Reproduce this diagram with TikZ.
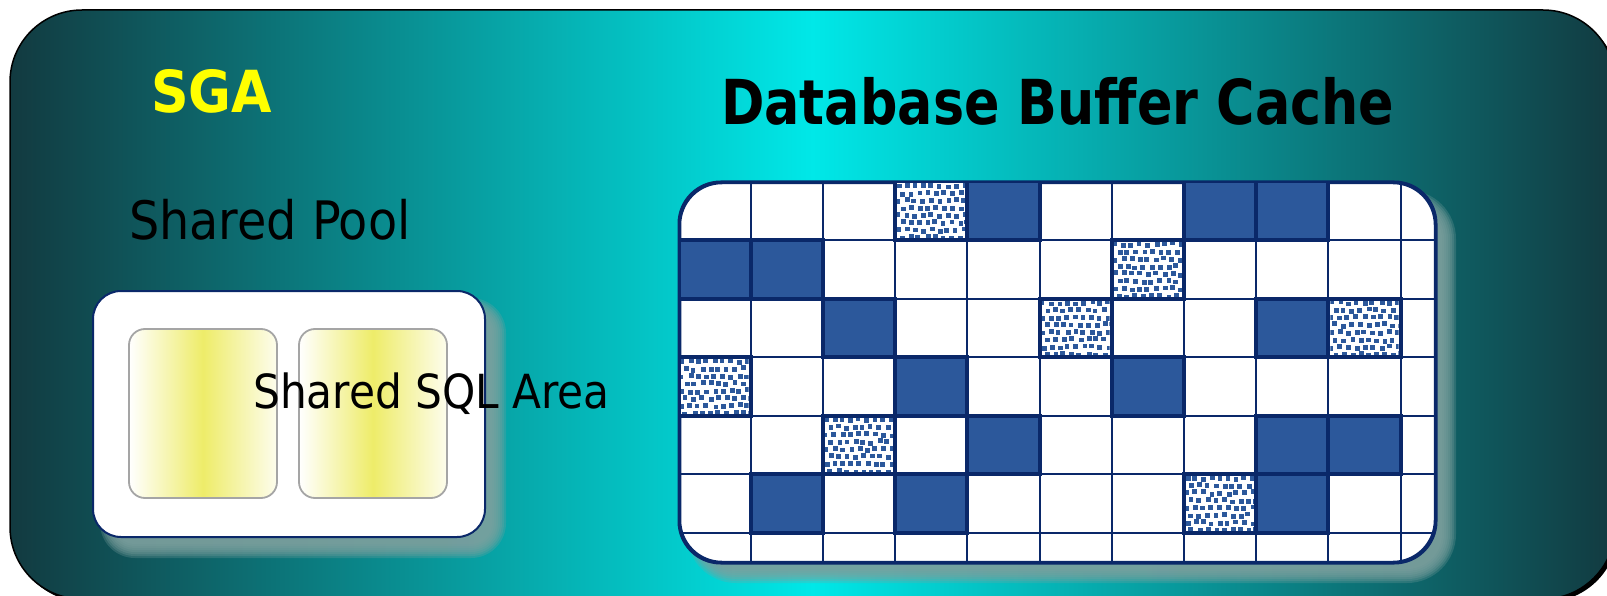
\documentclass[tikz,border=0pt]{standalone}
\usepackage{fontspec}
\setmainfont{DejaVu Sans Condensed}
\definecolor{navy}{RGB}{10,40,105}
\definecolor{cellblue}{RGB}{44,88,155}
\definecolor{bgdark}{RGB}{18,58,64}
\definecolor{bgcyan}{RGB}{0,232,232}
\definecolor{shadowgray}{RGB}{125,160,158}
\definecolor{sqlyellow}{RGB}{238,236,105}
\definecolor{sqlborder}{RGB}{165,165,165}
\definecolor{sgayellow}{RGB}{255,255,0}
\newcommand\softshadow[5]{%
  \foreach \k in {0,...,7} {
    \pgfmathsetmacro\e{7-2*\k}
    \pgfmathsetmacro\rr{#5+\e}
    \fill[shadowgray, fill opacity=0.28, rounded corners=\rr pt] (#1-\e,#2-\e) rectangle (#3+\e,#4+\e);
  }%
}
\tikzset{
  poolbox/.style={draw=navy, fill=white, line width=2pt, rounded corners=28pt, inner sep=0pt},
  sqlbox/.style={draw=sqlborder, line width=1.8pt, rounded corners=16pt, inner sep=0pt, minimum width=148pt, minimum height=169pt, left color=white, right color=sqlyellow!12, middle color=sqlyellow},
  cachebox/.style={draw=navy, fill=white, line width=2.5pt, rounded corners=42pt, inner sep=0pt},
  gridline/.style={draw=navy, line width=2pt},
  darkcell/.style={fill=cellblue, draw=navy, line width=4pt},
  patcell/.style={draw=navy, line width=4pt},
  label/.style={anchor=base west, inner sep=0pt, text=black}
}
\begin{document}
\begin{tikzpicture}[x=1pt,y=-1pt]
\useasboundingbox (0,0) rectangle (1607,596);
% outer SGA area
\fill[black, rounded corners=72pt] (13,13) rectangle (1618,602);
\shade[draw=black, line width=1.5pt, rounded corners=72pt, left color=bgdark, right color=bgdark, middle color=bgcyan] (10,10) rectangle (1615,599);

% titles
\node[label, text=sgayellow, font=\bfseries\fontsize{58}{60}\selectfont] (sga) at (151,113) {SGA};
\node[label, font=\bfseries\fontsize{62}{64}\selectfont] (dbc) at (721,125) {\scalebox{0.938}[1]{Database Buffer Cache}};
\node[label, font=\fontsize{53}{55}\selectfont] (sp) at (129,240) {Shared Pool};

% shared pool
\softshadow{107}{305}{499}{551}{28}
\node[poolbox, minimum width=392pt, minimum height=246pt] (pool) at (289,414) {};
\node[sqlbox] (sql1) at (203,413.5) {};
\node[sqlbox] (sql2) at (373,413.5) {};
\node[label, font=\fontsize{47}{49}\selectfont] (ssa) at (253,408) {Shared SQL Area};

% buffer cache
\softshadow{694}{197}{1449}{576}{42}
\node[cachebox, minimum width=755pt, minimum height=379pt] (cache) at (1057.5,372.5) {};
\pgfmathsetseed{11}
\begin{scope}
  \clip[rounded corners=42pt] (680,183) rectangle (1435,562);
  \foreach \c in {1,...,10} {
    \pgfmathsetmacro\xx{678.5+72.2*\c}
    \draw[gridline] (\xx,180) -- (\xx,565);
  }
  \foreach \r in {1,...,6} {
    \pgfmathsetmacro\yy{181.5+58.5*\r}
    \draw[gridline] (677,\yy) -- (1440,\yy);
  }
  \foreach \c/\r in {4/0,7/0,8/0,0/1,1/1,2/2,8/2,3/3,6/3,4/4,8/4,9/4,1/5,3/5,8/5} {
    \pgfmathsetmacro\xa{678.5+72.2*\c}
    \pgfmathsetmacro\ya{181.5+58.5*\r}
    \draw[darkcell] (\xa,\ya) rectangle ++(72.2,58.5);
  }
  \foreach \c/\r in {3/0,6/1,5/2,9/2,0/3,2/4,7/5} {
    \pgfmathsetmacro\xa{678.5+72.2*\c}
    \pgfmathsetmacro\ya{181.5+58.5*\r}
    \fill[white] (\xa,\ya) rectangle ++(72.2,58.5);
    \begin{scope}
      \clip (\xa+2,\ya+2) rectangle ++(68.2,54.5);
      \foreach \j in {0,...,7} {
        \foreach \i in {0,...,8} {
          \pgfmathsetmacro\px{\xa+1+\i*8.2+mod(\j,2)*4.1+rand*1.4}
          \pgfmathsetmacro\py{\ya+2+\j*7.4+rand*1.4}
          \fill[cellblue] (\px,\py) rectangle ++(4.8,4.8);
        }
      }
    \end{scope}
    \draw[patcell] (\xa,\ya) rectangle ++(72.2,58.5);
  }
\end{scope}
\draw[navy, line width=2.5pt, rounded corners=42pt] (cache.north west) rectangle (cache.south east);
\end{tikzpicture}
\end{document}
